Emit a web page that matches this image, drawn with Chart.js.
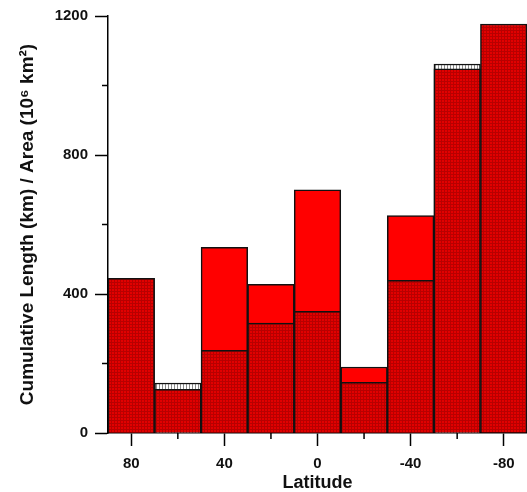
<!DOCTYPE html>
<html>
<head>
<meta charset="utf-8">
<script src="https://cdn.jsdelivr.net/npm/chart.js@4.4.0/dist/chart.umd.min.js"></script>
<style>
html,body{margin:0;padding:0;background:#fff;overflow:hidden;}
#wrap{width:527px;height:492px;}
</style>
</head>
<body>
<div id="wrap"><canvas id="c" width="527" height="492"></canvas></div>
<script>
// Latitude bin centres (degrees)
const categories = ['80','60','40','20','0','-20','-40','-60','-80'];
// Dark (grid-patterned) series
const darkValues = [445, 126, 238, 316, 350, 146, 439, 1048, 1177];
// Hatched grey cap series
const capValues = [null, 144, null, null, null, null, null, 1062, null];
// Bright red series
const brightValues = [445, null, 534, 428, 700, 190, 626, null, null];
// Y tick labels shown
const yLabelValues = [0, 400, 800, 1200];
const xLabelShown = ['80','40','0','-40','-80'];

function makePattern(bg, line, vertOnly){
  const c = document.createElement('canvas');
  c.width = 3; c.height = 3;
  const g = c.getContext('2d');
  g.fillStyle = bg; g.fillRect(0,0,3,3);
  g.fillStyle = line;
  g.fillRect(0,0,1,3);
  if(!vertOnly) g.fillRect(0,0,3,1);
  return g.createPattern(c,'repeat');
}
const ctx0 = document.getElementById('c').getContext('2d');
const darkPattern = makePattern('#e20000', '#b80000', false);
const capPattern = makePattern('#ffffff', '#8a8a8a', true);

const FONT = '"Liberation Sans", Arial, sans-serif';

const minorTicks = {
  id: 'minorTicks',
  afterDraw(chart){
    const {ctx, chartArea, scales:{x,y}} = chart;
    ctx.save();
    ctx.strokeStyle = '#000';
    ctx.lineWidth = 1.5;
    ctx.beginPath();
    categories.forEach((c,i)=>{
      if(xLabelShown.indexOf(c) < 0){
        const px = x.getPixelForValue(i);
        ctx.moveTo(px, chartArea.bottom);
        ctx.lineTo(px, chartArea.bottom + 6);
      }
    });
    for(let v = 200; v < 1200; v += 400){
      const py = y.getPixelForValue(v);
      ctx.moveTo(chartArea.left, py);
      ctx.lineTo(chartArea.left - 6, py);
    }
    ctx.stroke();
    ctx.restore();
  }
};

new Chart(ctx0, {
  type: 'bar',
  data: {
    labels: categories,
    datasets: [
      {data: darkValues, backgroundColor: darkPattern, borderColor: '#111', borderWidth: 1.5, grouped: false, barPercentage: 1, categoryPercentage: 1},
      {data: capValues, backgroundColor: capPattern, borderColor: '#111', borderWidth: 1.5, grouped: false, barPercentage: 1, categoryPercentage: 1},
      {data: brightValues, backgroundColor: '#ff0000', borderColor: '#111', borderWidth: 1.5, grouped: false, barPercentage: 1, categoryPercentage: 1}
    ]
  },
  options: {
    responsive: false,
    animation: false,
    events: [],
    layout: {padding: {top: 16, right: 0, left: 0, bottom: 0}},
    plugins: {legend: {display: false}, tooltip: {enabled: false}},
    scales: {
      x: {
        type: 'category',
        offset: true,
        grid: {
          offset: false,
          drawOnChartArea: false,
          drawTicks: true,
          tickLength: 13,
          tickWidth: 1.5,
          tickColor: (c) => (c.index % 2 === 0 ? '#000' : 'rgba(0,0,0,0)')
        },
        border: {display: true, color: '#000', width: 1.5},
        ticks: {
          autoSkip: false,
          maxRotation: 0,
          padding: 9,
          color: '#111',
          font: {family: FONT, size: 15, weight: 'bold'},
          callback: function(v, i){ const l = categories[i]; return xLabelShown.indexOf(l) >= 0 ? l : ''; }
        },
        title: {
          display: true,
          text: 'Latitude',
          color: '#111',
          font: {family: FONT, size: 18, weight: 'bold'},
          padding: {top: 0, bottom: -2}
        },
        afterFit: (s) => { s.height = 59; }
      },
      y: {
        min: 0,
        max: 1200,
        grid: {
          drawOnChartArea: false,
          drawTicks: true,
          tickLength: 13,
          tickWidth: 1.5,
          tickColor: (c) => (c.tick && yLabelValues.indexOf(c.tick.value) >= 0 ? '#000' : 'rgba(0,0,0,0)')
        },
        border: {display: true, color: '#000', width: 1.5},
        ticks: {
          stepSize: 200,
          padding: 7,
          color: '#111',
          font: {family: FONT, size: 15, weight: 'bold'},
          callback: (v) => (yLabelValues.indexOf(v) >= 0 ? String(v) : '')
        },
        title: {
          display: true,
          text: 'Cumulative Length (km) / Area (10\u2076 km\u00B2)',
          color: '#111',
          font: {family: FONT, size: 19, weight: 'bold'},
          padding: {top: 16, bottom: 0}
        },
        afterFit: (s) => { s.width = 108; }
      }
    }
  },
  plugins: [minorTicks]
});
</script>
</body>
</html>
